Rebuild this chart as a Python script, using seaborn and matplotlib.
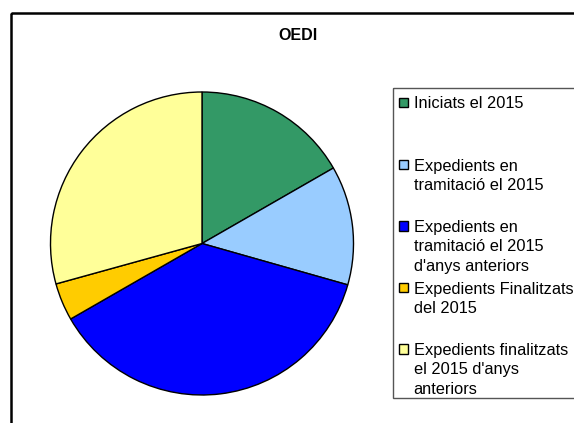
import matplotlib
matplotlib.use("Agg")
import matplotlib.pyplot as plt
import seaborn as sns
from matplotlib.patches import Rectangle

# Data
categories = [
    "Iniciats el 2015",
    "Expedients en\ntramitació el 2015",
    "Expedients en\ntramitació el 2015\nd'anys anteriors",
    "Expedients Finalitzats\ndel 2015",
    "Expedients finalitzats\nel 2015 d'anys\nanteriors",
]
values = [16.7, 12.7, 37.3, 4.0, 29.3]
colors = ["#339966", "#99CCFF", "#0000FF", "#FFCC00", "#FFFF99"]
title = "OEDI"

sns.set_theme(style="white")
plt.rcParams['font.family'] = ['Liberation Sans', 'DejaVu Sans']

W, H = 574, 423
fig = plt.figure(figsize=(W / 100, H / 100), dpi=100)
fig.patch.set_facecolor("white")

# overlay axes in pixel coordinates
ov = fig.add_axes([0, 0, 1, 1])
ov.set_xlim(0, W)
ov.set_ylim(H, 0)
ov.axis("off")

# outer chart border (extends beyond canvas)
ov.add_patch(Rectangle((11, 12.7), 600, 450, fill=False, edgecolor="black", lw=1.8, zorder=1))

# title
ov.text(298, 36, title, ha="center", va="center", fontsize=11.5, fontweight="bold", color="black")

# pie axes
cx, cy, r = 202, 243.5, 151.5
pie_ax = fig.add_axes([(cx - r) / W, (H - cy - r) / H, 2 * r / W, 2 * r / H])
palette = sns.color_palette(colors)
pie_ax.pie(values, colors=palette, startangle=90, counterclock=False, radius=1,
           wedgeprops=dict(edgecolor="black", linewidth=1.0))
pie_ax.set_xlim(-1.0, 1.0)
pie_ax.set_ylim(-1.0, 1.0)
pie_ax.set_aspect("auto")
pie_ax.axis("off")

# legend (manual, Excel style with equal spacing)
ov.add_patch(Rectangle((393.3, 88.3), 300, 310, fill=False, edgecolor="#555555", lw=1.0, zorder=2))
first_y = [102.5, 164.5, 226.0, 287.7, 349.0]
line_h = 19.4
for lab, col, y0 in zip(categories, palette, first_y):
    ov.add_patch(Rectangle((398.8, y0 - 4.8), 9.6, 9.6, facecolor=col, edgecolor="black", lw=1.0, zorder=3))
    for i, line in enumerate(lab.split("\n")):
        ov.text(413.5, y0 + i * line_h, line, ha="left", va="center_baseline", fontsize=11.8, color="black")

fig.savefig("out.png", dpi=100, facecolor="white")
